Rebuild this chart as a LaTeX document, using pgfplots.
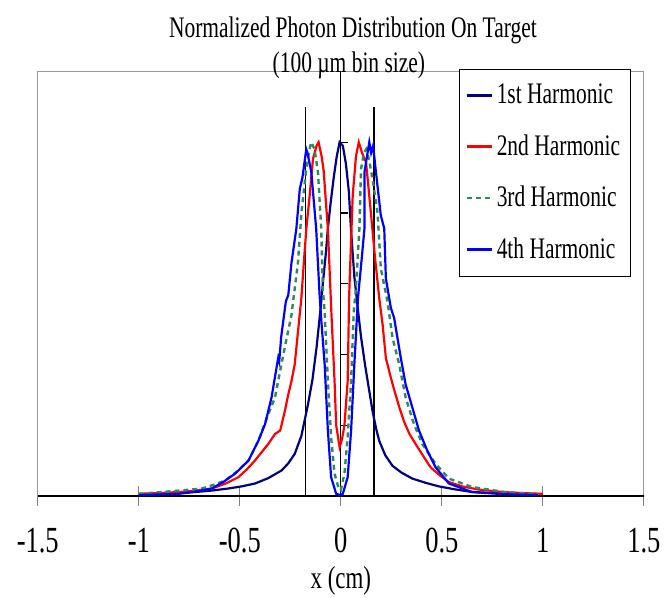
\documentclass[border=0pt]{standalone}
\usepackage{fontspec}
\setmainfont{Liberation Serif}[FakeStretch=0.72]
\usepackage{pgfplots}
\pgfplotsset{compat=1.18}
\definecolor{navyc}{HTML}{000080}
\definecolor{redc}{HTML}{FF0000}
\definecolor{greenc}{HTML}{2E8B57}
\definecolor{bluec}{HTML}{0000FF}
\newcommand\tickfont{\fontsize{18.5}{21}\selectfont}
\newcommand\legfont{\fontsize{15}{18}\selectfont}
\newcommand\titfont{\fontsize{15}{18}\selectfont}
\newcommand\labfont{\fontsize{16}{19}\selectfont}
\begin{document}
\begin{tikzpicture}
\begin{axis}[
  scale only axis, width=304.85pt, height=213.5pt,
  xmin=-1.5, xmax=1.5, ymin=0, ymax=1.2,
  axis line style={draw=gray!80, line width=0.6pt},
  xtick={-1.5,-1,-0.5,0,0.5,1,1.5},
  xticklabels={-1.5,-1,-0.5,0,0.5,1,1.5},
  ytick=\empty, xtick pos=bottom,
  tick align=center, major tick length=10pt,
  xtick style={gray, line width=0.6pt},
  x tick label style={font=\tickfont, yshift=-10pt, inner ysep=1pt},
  clip=false,
  legend style={at={(axis cs:0.585,1.208)}, anchor=north west, draw=black, fill=white,
    font=\legfont, row sep=10pt, inner xsep=3pt, inner ysep=5.5pt, line width=0.6pt},
  legend cell align=left,
  legend image code/.code={\draw[#1] (0pt,0pt) -- (12.5pt,0pt);},
]
\path (axis cs:-1.687,-0.272) rectangle (axis cs:1.594,1.402);
\addplot[black, line width=0.8pt, forget plot] coordinates {(-1.5,0) (1.5,0)};
\addplot[black, line width=0.6pt, forget plot] coordinates {(0,0) (0,1.2)};
\addplot[black, line width=0.8pt, forget plot] coordinates {(-0.174,0) (-0.174,1.1)};
\addplot[black, line width=0.8pt, forget plot] coordinates {(0.164,0) (0.164,1.1)};
\pgfplotsinvokeforeach{0.2,0.4,0.6,0.8,1.0}{\draw[black, line width=0.6pt] (axis cs:0,#1) -- (axis cs:0.034,#1);}

\addplot[navyc, line width=1.1pt] coordinates {
(-1.0,0.004) (-0.9,0.006) (-0.8,0.008) (-0.72,0.011) (-0.64,0.015) (-0.556,0.021) (-0.49,0.027)
(-0.425,0.035) (-0.36,0.05) (-0.293,0.072) (-0.26,0.092) (-0.228,0.119) (-0.195,0.17) (-0.162,0.26)
(-0.14,0.33) (-0.12,0.42) (-0.10,0.53) (-0.089,0.60) (-0.075,0.68) (-0.064,0.756) (-0.05,0.83)
(-0.035,0.9) (-0.02,0.96) (-0.006,1.0) (0.01,0.99) (0.025,0.94) (0.04,0.86) (0.05,0.756)
(0.067,0.62) (0.084,0.53) (0.10,0.45) (0.12,0.37) (0.14,0.30) (0.157,0.24) (0.175,0.19)
(0.19,0.156) (0.22,0.115) (0.256,0.085) (0.30,0.066) (0.354,0.049) (0.42,0.037) (0.485,0.027)
(0.56,0.019) (0.65,0.011) (0.8,0.007) (0.9,0.006) (0.977,0.005)};
\addlegendentry{1st Harmonic}

\addplot[redc, line width=1.1pt] coordinates {
(-1.0,0.006) (-0.9,0.008) (-0.8,0.011) (-0.72,0.015) (-0.638,0.021) (-0.57,0.035) (-0.507,0.053)
(-0.465,0.075) (-0.425,0.10) (-0.39,0.125) (-0.359,0.147) (-0.326,0.175) (-0.30,0.185) (-0.277,0.24)
(-0.26,0.287) (-0.244,0.325) (-0.228,0.372) (-0.212,0.465) (-0.195,0.56) (-0.183,0.66) (-0.17,0.76)
(-0.154,0.85) (-0.138,0.952) (-0.12,0.99) (-0.11,1.0) (-0.095,0.96) (-0.085,0.92) (-0.075,0.84)
(-0.064,0.756) (-0.048,0.535) (-0.031,0.325) (-0.023,0.20) (-0.006,0.138) (0.006,0.16) (0.018,0.20)
(0.034,0.325) (0.041,0.56) (0.047,0.66) (0.059,0.85) (0.075,0.96) (0.089,1.0) (0.105,0.97)
(0.125,0.943) (0.149,0.80) (0.17,0.67) (0.19,0.56) (0.207,0.484) (0.223,0.39) (0.245,0.34)
(0.264,0.30) (0.29,0.25) (0.313,0.21) (0.34,0.175) (0.37,0.147) (0.40,0.12) (0.444,0.081)
(0.49,0.058) (0.535,0.039) (0.6,0.027) (0.682,0.018) (0.8,0.011) (0.9,0.008) (1.0,0.006)};
\addlegendentry{2nd Harmonic}

\addplot[greenc, line width=1.2pt, dash pattern=on 2.5pt off 2pt] coordinates {
(-1.0,0.006) (-0.884,0.011) (-0.78,0.016) (-0.687,0.021) (-0.62,0.033) (-0.572,0.044) (-0.507,0.072)
(-0.457,0.10) (-0.408,0.156) (-0.359,0.231) (-0.326,0.278) (-0.294,0.372) (-0.27,0.44) (-0.244,0.512)
(-0.236,0.55) (-0.212,0.66) (-0.195,0.80) (-0.171,0.924) (-0.155,0.98) (-0.146,1.0) (-0.13,0.98)
(-0.113,0.915) (-0.097,0.756) (-0.089,0.587) (-0.08,0.52) (-0.064,0.325) (-0.048,0.166) (-0.031,0.063)
(-0.01,0.02) (0.0,0.016) (0.018,0.063) (0.034,0.166) (0.051,0.325) (0.064,0.52) (0.075,0.587)
(0.092,0.756) (0.10,0.924) (0.115,0.97) (0.125,0.98) (0.14,0.95) (0.157,0.896) (0.182,0.80)
(0.198,0.643) (0.231,0.55) (0.256,0.447) (0.289,0.372) (0.321,0.278) (0.362,0.203) (0.403,0.147)
(0.469,0.091) (0.535,0.049) (0.65,0.025) (0.813,0.011) (0.977,0.005)};
\addlegendentry{3rd Harmonic}

\addplot[bluec, line width=1.1pt] coordinates {
(-1.0,0.002) (-0.9,0.004) (-0.80,0.006) (-0.72,0.012) (-0.638,0.021) (-0.58,0.04) (-0.523,0.063)
(-0.457,0.10) (-0.408,0.156) (-0.375,0.203) (-0.343,0.278) (-0.31,0.39) (-0.305,0.38) (-0.295,0.45)
(-0.272,0.55) (-0.26,0.568) (-0.244,0.66) (-0.22,0.756) (-0.203,0.868) (-0.19,0.90) (-0.171,0.98)
(-0.165,0.97) (-0.146,0.915) (-0.122,0.756) (-0.105,0.568) (-0.097,0.50) (-0.08,0.372) (-0.064,0.185)
(-0.048,0.053) (-0.023,0.006) (0.0,0.002) (0.01,0.006) (0.034,0.053) (0.051,0.185) (0.067,0.372)
(0.085,0.56) (0.105,0.68) (0.117,0.756) (0.117,0.915) (0.141,1.0) (0.15,0.97) (0.16,0.99)
(0.174,0.915) (0.198,0.793) (0.215,0.756) (0.223,0.615) (0.248,0.531) (0.264,0.503) (0.297,0.39)
(0.321,0.315) (0.354,0.25) (0.387,0.185) (0.428,0.128) (0.469,0.081) (0.535,0.035) (0.65,0.011)
(0.8,0.005) (0.977,0.002)};
\addlegendentry{4th Harmonic}

\node[font=\titfont, anchor=base] at (axis cs:0.06,1.295) {Normalized Photon Distribution On Target};
\node[font=\titfont, anchor=base] at (axis cs:0.04,1.198) {(100 µm bin size)};
\node[font=\labfont, anchor=base, inner sep=1pt] at (axis cs:0,-0.262) {x (cm)};
\end{axis}
\end{tikzpicture}
\end{document}
